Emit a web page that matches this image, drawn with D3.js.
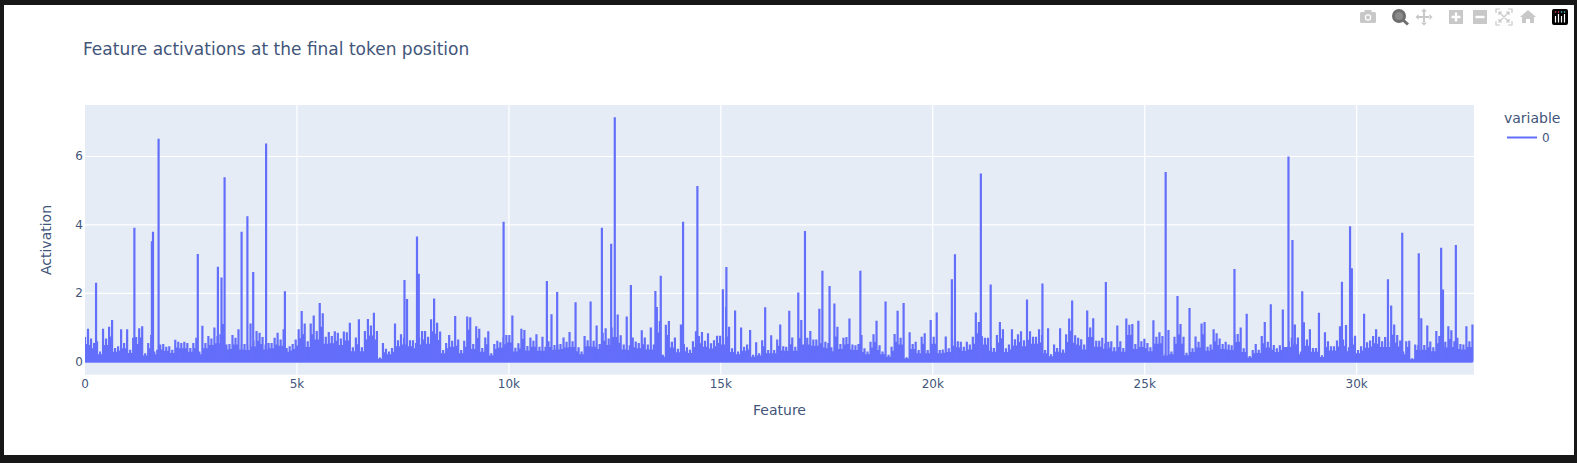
<!DOCTYPE html>
<html><head><meta charset="utf-8">
<script src="https://cdn.jsdelivr.net/npm/d3@7"></script>
<style>
html,body{margin:0;padding:0;background:#171717;overflow:hidden}
svg{display:block}
text{font-family:"DejaVu Sans",Verdana,sans-serif;fill:#42557a}
</style></head><body>
<svg id="chart" width="1577" height="463"></svg>
<script>
const chartTitle = "Feature activations at the final token position";
const xAxisTitle = "Feature";
const yAxisTitle = "Activation";
const legendTitle = "variable";
const legendLabels = ["0"];
const xTicks = [0, 5000, 10000, 15000, 20000, 25000, 30000];
const xTickLabels = ["0", "5k", "10k", "15k", "20k", "25k", "30k"];
const yTicks = [0, 2, 4, 6];
const xDomain = [0, 32768];
const yDomain = [-0.38, 7.506];

// Tall activations, read one by one
const peakFeatures = [261,1165,1578,1604,1736,2661,3135,3220,3293,3694,3831,3968,4272,4716,7537,7832,7874,9875,10896,11139,12194,12413,12498,12878,13456,13583,14109,14447,15048,15131,16827,16985,17396,17565,18292,20450,20523,21134,21366,22587,24083,25494,27117,28391,28485,28716,29653,29844,29886,30738,31075,31465,31993,32036,32340];
const peakValues = [2.31,3.92,3.52,3.80,6.52,3.15,2.78,2.46,5.39,3.80,4.25,2.62,6.38,2.06,2.39,3.66,2.57,4.09,2.36,2.04,3.92,3.45,7.15,2.24,2.07,2.51,4.09,5.14,2.12,2.77,2.02,3.82,2.66,2.21,2.66,2.41,3.14,5.50,2.26,2.29,2.33,5.55,2.71,6.00,3.56,2.06,2.34,3.96,2.73,2.41,3.77,3.17,3.33,2.11,3.41];

// Lower activations in six stretches
const stripStartFeatures = [0, 5680, 11360, 17040, 22720, 28400];
const stripSpacing = 71;
const lowStrip1 = [.72,.96,.68,.55,.6,.3,.96,.68,1.02,1.22,.4,.45,.95,.55,.95,.35,.7,.72,.98,1.04,.25,.55,.78,.3,.35,.5,.52,.44,.45,.35,.64,.58,.55,.58,.55,.4,.55,.7,.3,1.05,.55,.75,.68,1.0,.75,.8,1.1,.5,.52,.78,.7,.95,.5,.52,.48,1.12,.62,.9,.85,.72,.5,.55,.55,.7,.85,.65,.95,.4,.45,.52,.65,.95,1.48,1.12,.6,1.12,1.35,.9,1.72,1.42];
const lowStrip2 = [.73,.87,.75,.89,.85,.68,.88,.86,1.14,.42,.71,1.24,.42,.9,1.25,1.06,1.43,.9,.12,.55,.38,.3,.4,1.12,.63,.8,.7,1.83,.63,.63,.55,.7,.9,.9,.73,1.24,1.85,1.14,.88,.34,.55,.78,.61,1.34,.65,.34,.61,1.32,1.3,.52,1.04,.96,.4,.71,.89,.25,.52,.61,.57,.71,.78,.78,1.35,.41,.54,.96,.93,.46,.71,.61,.8,.44,.73,.44,.6,1.39,.49,.5,.52,.71];
const lowStrip3 = [.58,.87,.6,1.74,.42,.3,.75,.63,1.76,.61,1.06,.52,.85,.98,.68,1.0,1.0,1.38,.77,.5,1.32,.48,.71,.59,.55,.92,.71,.5,1.0,.5,1.6,1.19,.2,1.08,1.19,.58,.71,.38,1.09,.52,.42,.35,.6,.89,.75,.87,.61,.83,.54,.63,.76,.76,.7,1.6,1.02,.39,1.5,.3,1.0,.44,.5,.93,.2,.57,.25,.63,1.59,.34,.77,.34,.65,1.09,.45,.44,1.49,.71,.44,.96,1.22];
const lowStrip4 = [.7,.9,.65,.65,1.55,.75,.58,.55,.42,1.7,1.02,.52,.7,.72,1.26,.5,.48,.52,.78,.39,.3,.58,.8,1.2,.48,.3,1.76,.2,.44,.81,1.49,.7,1.72,.13,.86,.52,.58,.34,.73,.83,.34,1.22,.73,1.44,.34,.36,.74,.39,1.34,.65,.6,.58,.44,.58,.5,.73,1.44,1.16,.75,.7,.7,.44,.4,.78,1.16,.95,.39,.5,.95,.66,.8,.89,.63,1.82,.89,.73,.73,.95,.78,.34];
const lowStrip5 = [.98,.22,.5,.4,.98,.36,.8,1.26,1.79,.77,.7,.66,.5,1.5,1.0,1.27,.61,.61,.7,.53,.58,.6,.42,1.06,.6,.4,1.26,1.08,1.1,.52,1.2,.6,.67,.55,.42,1.21,.73,.86,.75,.25,.93,.3,.73,1.92,1.1,.73,.26,1.57,.39,.74,.58,1.12,1.16,.44,.5,.95,.83,.68,.52,.58,.5,.48,.8,.81,1.0,.39,1.4,.17,.34,.52,.35,.75,1.16,.58,1.68,.49,.39,.48,1.53];
const lowStrip6 = [.6,.7,1.09,.71,.3,1.15,.65,.95,.4,.4,1.43,.19,.86,.6,.45,.45,.62,1.04,.65,1.07,.42,.7,.76,.34,.45,1.4,.57,.62,.75,.95,.73,.6,.72,.6,1.64,1.09,.78,.62,.3,.6,.61,.1,.5,.48,1.27,.49,1.06,.59,.42,.9,.75,.6,.58,1.04,.92,.6,.7,.52,.5,1.04,.6,1.09];
const lowStrips = [lowStrip1, lowStrip2, lowStrip3, lowStrip4, lowStrip5, lowStrip6];

const plot = {left: 85, right: 1474, top: 105, bottom: 374.7};
const traceColor = "#636efa";
const svg = d3.select("#chart");

// Page frame
svg.append("rect").attr("x",4).attr("y",5).attr("width",1570).attr("height",450).attr("fill","#fff");

const x = d3.scaleLinear().domain(xDomain).range([plot.left, plot.right]);
const y = d3.scaleLinear().domain(yDomain).range([plot.bottom, plot.top]);

svg.append("rect").attr("x",plot.left).attr("y",plot.top)
   .attr("width",plot.right-plot.left).attr("height",plot.bottom-plot.top).attr("fill","#e5ecf6");

// Grid
const gx = svg.append("g").attr("transform",`translate(0,${plot.top})`)
  .call(d3.axisBottom(x).offset(0).tickValues(xTicks.filter(d=>d>0)).tickSize(plot.bottom-plot.top).tickFormat(""));
gx.select(".domain").remove();
gx.selectAll("line").attr("stroke","#fff").attr("stroke-width",1.2);
const gy = svg.append("g").attr("transform",`translate(${plot.left},0)`)
  .call(d3.axisRight(y).offset(0).tickValues(yTicks).tickSize(plot.right-plot.left).tickFormat(""));
gy.select(".domain").remove();
gy.selectAll("line").attr("stroke","#fff").attr("stroke-width",d=>d===0?2:1.2);

// Series
const clipId = "plotclip";
svg.append("clipPath").attr("id",clipId).append("rect").attr("x",plot.left).attr("y",plot.top)
   .attr("width",plot.right-plot.left).attr("height",plot.bottom-plot.top);
const series = svg.append("g").attr("clip-path",`url(#${clipId})`);

const lowMarks = [];
lowStrips.forEach((vals,s)=>vals.forEach((v,j)=>lowMarks.push({f:stripStartFeatures[s]+j*stripSpacing,v})));

// Solid body under the spikes: most of the way up the lower of two neighbouring readings
const bodyShare = 0.72;
const bodyArea = d3.area().curve(d3.curveStepAfter)
  .x(d=>x(d.f)).y0(y(0)).y1((d,i)=>y(bodyShare*Math.min(d.v,(lowMarks[i+1]||d).v)));
series.append("path").attr("fill",traceColor).attr("d",bodyArea(lowMarks));

const allMarks = lowMarks.concat(peakFeatures.map((f,i)=>({f,v:peakValues[i]}))).sort((a,b)=>a.f-b.f);
const pts = [];
allMarks.forEach(m=>pts.push([m.f,0],[m.f,m.v],[m.f,0]));
series.append("path").attr("fill","none").attr("stroke",traceColor)
   .attr("stroke-width",2.2).attr("stroke-linejoin","bevel")
   .attr("d",d3.line().x(d=>x(d[0])).y(d=>y(d[1]))(pts));

// Tick labels
const fontStack = '"DejaVu Sans",Verdana,sans-serif';
const ax = svg.append("g").attr("transform",`translate(0,${plot.bottom})`)
  .call(d3.axisBottom(x).offset(0).tickValues(xTicks).tickSize(0).tickPadding(0).tickFormat((d,i)=>xTickLabels[i]));
ax.select(".domain").remove();
ax.selectAll("text").attr("y",13).attr("dy",0).attr("font-size",12).style("font-family",fontStack).style("fill","#42557a");
const ay = svg.append("g").attr("transform",`translate(${plot.left},0)`)
  .call(d3.axisLeft(y).offset(0).tickValues(yTicks).tickSize(0).tickPadding(2).tickFormat(d3.format("d")));
ay.select(".domain").remove();
ay.selectAll("text").attr("font-size",12).style("font-family",fontStack).style("fill","#42557a");

// Titles
svg.append("text").attr("x",83).attr("y",55).attr("font-size",17).text(chartTitle);
svg.append("text").attr("x",(plot.left+plot.right)/2).attr("y",415).attr("text-anchor","middle").attr("font-size",14).text(xAxisTitle);
svg.append("text").attr("transform","translate(51,240) rotate(-90)").attr("text-anchor","middle").attr("font-size",14).text(yAxisTitle);

// Legend
svg.append("text").attr("x",1504).attr("y",123).attr("font-size",14).text(legendTitle);
svg.append("line").attr("x1",1507).attr("x2",1537).attr("y1",137.5).attr("y2",137.5).attr("stroke",traceColor).attr("stroke-width",2);
svg.append("text").attr("x",1542).attr("y",142).attr("font-size",12).text(legendLabels[0]);

// Toolbar
const bar = svg.append("g");
const iconGrey = "#c8c8c8", iconDark = "#6e6e6e";
const cam = bar.append("g").attr("transform","translate(1368,17)");
cam.append("rect").attr("x",-8).attr("y",-5).attr("width",16).attr("height",11).attr("rx",1.5).attr("fill",iconGrey);
cam.append("rect").attr("x",-3.5).attr("y",-7).attr("width",7).attr("height",3).attr("fill",iconGrey);
cam.append("circle").attr("r",3.2).attr("cy",.5).attr("fill","#fff");
cam.append("circle").attr("r",2).attr("cy",.5).attr("fill",iconGrey);
const zm = bar.append("g").attr("transform","translate(1399,16)");
zm.append("circle").attr("r",5.5).attr("fill","#8a8a8a").attr("stroke",iconDark).attr("stroke-width",3);
zm.append("line").attr("x1",4).attr("y1",4).attr("x2",9).attr("y2",8.5).attr("stroke",iconDark).attr("stroke-width",3);
const pan = bar.append("g").attr("transform","translate(1424,17)").attr("fill",iconGrey);
pan.append("path").attr("d","M-1,-6h2v12h-2zM-6,-1h12v2h-12zM0,-8.5l3,3h-6zM0,8.5l3,-3h-6zM-8.5,0l3,-3v6zM8.5,0l-3,-3v6z");
const plus = bar.append("g").attr("transform","translate(1456,17)");
plus.append("rect").attr("x",-7).attr("y",-7).attr("width",14).attr("height",14).attr("fill",iconGrey);
plus.append("path").attr("d","M-1.2,-4.5h2.4v3.3h3.3v2.4h-3.3v3.3h-2.4v-3.3h-3.3v-2.4h3.3z").attr("fill","#fff");
const minus = bar.append("g").attr("transform","translate(1480,17)");
minus.append("rect").attr("x",-7).attr("y",-7).attr("width",14).attr("height",14).attr("fill",iconGrey);
minus.append("rect").attr("x",-4.5).attr("y",-1.2).attr("width",9).attr("height",2.4).attr("fill","#fff");
const auto = bar.append("g").attr("transform","translate(1504,17)");
auto.append("path").attr("d","M-8,-4v-4h4M4,-8h4v4M8,4v4h-4M-4,8h-4v-4M-5,-5L5,5M5,-5L-5,5M-5,-2v-3h3M2,-5h3v3M5,2v3h-3M-2,5h-3v-3")
    .attr("fill","none").attr("stroke",iconGrey).attr("stroke-width",1.2);
const home = bar.append("g").attr("transform","translate(1528,17)");
home.append("path").attr("d","M0,-7L8,0H6V6H2V2H-2V6H-6V0H-8Z").attr("fill",iconGrey);
const logo = bar.append("g").attr("transform","translate(1560,17)");
logo.append("rect").attr("x",-8).attr("y",-8).attr("width",16).attr("height",16).attr("rx",2).attr("fill","#000");
[-4.5,-1.5,1.5,4.5].forEach((dx,i)=>{
  logo.append("rect").attr("x",dx-.6).attr("y",[-1,-3,-1,-3][i]).attr("width",1.2).attr("height",[6.5,8.5,6.5,8.5][i]).attr("fill","#fff");
  logo.append("circle").attr("cx",dx).attr("cy",-5).attr("r",.8).attr("fill",["#ef476f","#ef476f","#5bd1d7","#5bd1d7"][i]);
});
</script>
</body></html>
